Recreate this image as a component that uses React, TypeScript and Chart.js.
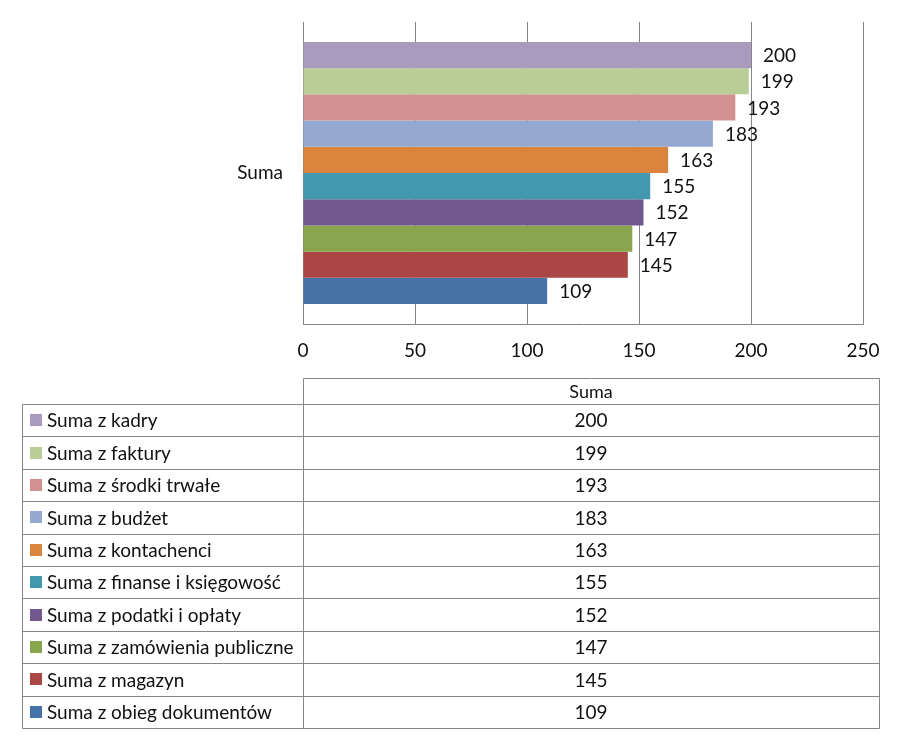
import React, { useEffect, useRef } from "react";
import { Chart, registerables } from "chart.js";

Chart.register(...registerables);

const categories = ["Suma"];
const seriesNames = [
  "Suma z kadry",
  "Suma z faktury",
  "Suma z środki trwałe",
  "Suma z budżet",
  "Suma z kontachenci",
  "Suma z finanse i księgowość",
  "Suma z podatki i opłaty",
  "Suma z zamówienia publiczne",
  "Suma z magazyn",
  "Suma z obieg dokumentów",
];
const seriesValues = [200, 199, 193, 183, 163, 155, 152, 147, 145, 109];
const seriesColors = [
  "#A99BBD",
  "#B9CD96",
  "#D39291",
  "#95A9D0",
  "#DB843D",
  "#4198AF",
  "#71588F",
  "#89A54E",
  "#AA4643",
  "#4572A7",
];
const xTicks = [0, 50, 100, 150, 200, 250];

const FONT = "Lato, 'Open Sans', sans-serif";
const FS = 19;
const GRID = "#868686";

const labelsPlugin = {
  id: "valueLabels",
  afterDatasetsDraw(chart: any) {
    const ctx = chart.ctx;
    ctx.save();
    ctx.font = `${FS}px ${FONT}`;
    ctx.fillStyle = "#111";
    ctx.textAlign = "left";
    ctx.textBaseline = "middle";
    chart.data.datasets.forEach((ds: any, i: number) => {
      const meta = chart.getDatasetMeta(i);
      meta.data.forEach((bar: any, j: number) => {
        ctx.fillText(String(ds.data[j]), bar.x + 12, bar.y + 1);
      });
    });
    ctx.restore();
  },
};

const tablePlugin = {
  id: "dataTable",
  afterDraw(chart: any) {
    const ctx = chart.ctx;
    const area = chart.chartArea;
    const leftX = 22;
    const colX = area.left;
    const rightX = 879;
    const headTop = 378;
    const rowTop = 404;
    const rowH = 32.4;
    const n = seriesNames.length;
    ctx.save();
    ctx.strokeStyle = GRID;
    ctx.lineWidth = 1;
    const line = (x1: number, y1: number, x2: number, y2: number) => {
      ctx.beginPath();
      ctx.moveTo(Math.round(x1) + 0.5, Math.round(y1) + 0.5);
      ctx.lineTo(Math.round(x2) + 0.5, Math.round(y2) + 0.5);
      ctx.stroke();
    };
    line(colX, headTop, rightX, headTop);
    line(colX, headTop, colX, rowTop);
    line(rightX, headTop, rightX, rowTop);
    for (let i = 0; i <= n; i++) {
      const y = rowTop + i * rowH;
      line(leftX, y, rightX, y);
    }
    const bottom = rowTop + n * rowH;
    line(leftX, rowTop, leftX, bottom);
    line(colX, rowTop, colX, bottom);
    line(rightX, rowTop, rightX, bottom);

    ctx.fillStyle = "#111";
    ctx.textBaseline = "middle";
    ctx.font = `${FS - 1}px ${FONT}`;
    ctx.textAlign = "center";
    const cx = (colX + rightX) / 2;
    ctx.fillText(categories[0], cx, (headTop + rowTop) / 2 + 1);
    ctx.font = `${FS}px ${FONT}`;
    for (let i = 0; i < n; i++) {
      const cy = rowTop + i * rowH + rowH / 2 + 1;
      ctx.fillStyle = seriesColors[i];
      ctx.fillRect(30, Math.round(cy - 7), 12, 12);
      ctx.fillStyle = "#111";
      ctx.textAlign = "left";
      ctx.fillText(seriesNames[i], 47, cy);
      ctx.textAlign = "center";
      ctx.fillText(String(seriesValues[i]), cx, cy);
    }
    ctx.restore();
  },
};

export default function App() {
  const ref = useRef<HTMLCanvasElement>(null);
  useEffect(() => {
    const canvas = ref.current!;
    const chart = new Chart(canvas, {
      type: "bar",
      data: {
        labels: categories,
        datasets: seriesNames.map((name, i) => ({
          label: name,
          data: [seriesValues[i]],
          backgroundColor: seriesColors[i],
          borderWidth: 0,
          categoryPercentage: 0.868,
          barPercentage: 1,
        })),
      },
      options: {
        indexAxis: "y",
        animation: false,
        responsive: false,
        maintainAspectRatio: false,
        layout: { padding: { left: 0, top: 22, right: 39, bottom: 388 } },
        plugins: {
          legend: { display: false },
          tooltip: { enabled: false },
          title: { display: false },
        },
        scales: {
          x: {
            min: 0,
            max: 250,
            afterFit: (s: any) => {
              s.height = 40;
              s.paddingLeft = 0;
              s.paddingRight = 0;
            },
            afterBuildTicks: (s: any) => {
              s.ticks = xTicks.map((v) => ({ value: v }));
            },
            grid: { color: GRID, drawTicks: false, lineWidth: 1 },
            border: { display: true, color: GRID, width: 1 },
            ticks: {
              color: "#111",
              font: { family: FONT, size: FS },
              padding: 15,
              maxRotation: 0,
            },
          },
          y: {
            afterFit: (s: any) => {
              s.width = 303;
              s.paddingTop = 0;
              s.paddingBottom = 0;
            },
            grid: { display: false, drawTicks: false },
            border: { display: true, color: GRID, width: 1 },
            ticks: {
              color: "#111",
              font: { family: FONT, size: FS },
              padding: 20,
            },
          },
        },
      } as any,
      plugins: [labelsPlugin, tablePlugin],
    });
    return () => chart.destroy();
  }, []);
  return (
    <div style={{ position: "fixed", left: 0, top: 0, width: 902, height: 752, background: "#fff" }}>
      <canvas ref={ref} width={902} height={752} style={{ display: "block" }} />
    </div>
  );
}
